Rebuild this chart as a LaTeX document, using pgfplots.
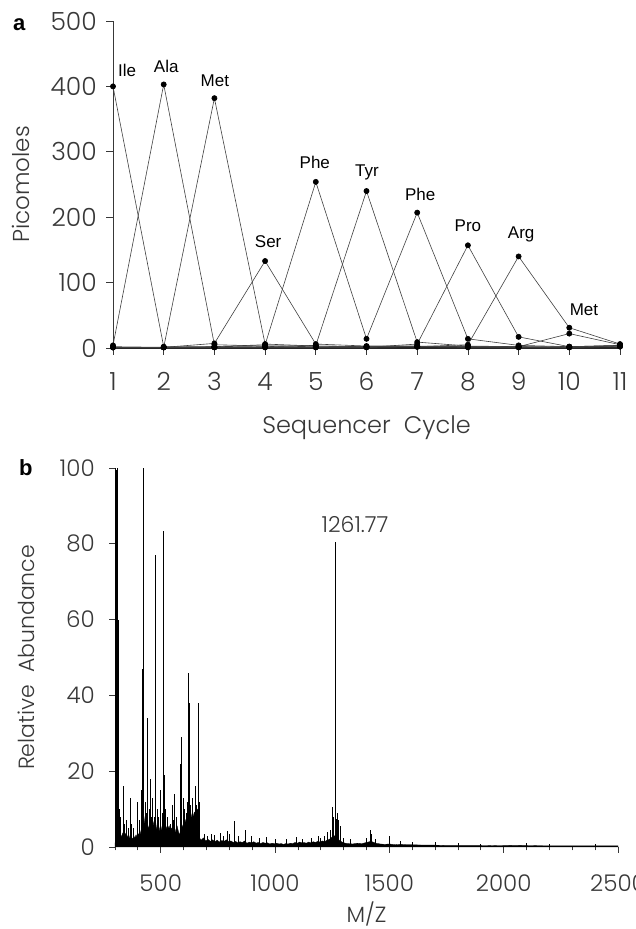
\documentclass[border=0pt]{standalone}
\usepackage{pgfplots}
\pgfplotsset{compat=1.18}
\usepackage{fontspec}
\IfFontExistsTF{Poppins Light}{\setmainfont{Poppins Light}}{\setmainfont{Poppins}}
\newfontfamily\arial{Liberation Sans}
\definecolor{ink}{gray}{0.22}
\definecolor{trace}{gray}{0.25}
\tikzset{lab/.style={font=\arial\fontsize{17}{19}\selectfont, text=black}}
\begin{document}
\begin{tikzpicture}[x=1pt,y=1pt]
\useasboundingbox (0,0) rectangle (635,929);
\pgfplotsset{
  common/.style={scale only axis, axis x line*=bottom, axis y line*=left,
    axis line style={-,ink,line width=1pt}, tick align=outside,
    major tick length=6pt, minor tick length=3.5pt, tick style={ink,line width=0.8pt},
    /pgf/number format/assume math mode=true, /pgf/number format/1000 sep={},
    tick label style={font=\fontsize{23}{25}\selectfont, text=ink},
    label style={font=\fontsize{22}{24}\selectfont, text=ink},
    clip=false},
  aa/.style={trace, line width=0.6pt, mark=*, mark size=2.6pt, mark options={fill=black,draw=black}},
}
% ---------------- panel a ----------------
\begin{axis}[common, at={(113pt,581pt)}, anchor=south west, width=507pt, height=327pt,
  xmin=1, xmax=11, ymin=0, ymax=500, xtick={1,...,11}, ytick={0,100,...,500},
  x axis line style={line width=1.8pt, black!85},
  major tick length=7pt,
  tick label style={font=\fontsize{25}{27}\selectfont},
  xlabel={Sequencer\ \ Cycle}, ylabel={Picomoles},
  xlabel style={at={(axis description cs:0.5,-0.245)}, anchor=center, font=\fontsize{24}{26}\selectfont},
  ylabel style={at={(axis description cs:-0.1815,0.5)}, anchor=center, rotate=0, font=\fontsize{23}{25}\selectfont},
  yticklabel style={anchor=east, inner sep=0pt, xshift=-9pt},
  xticklabel style={anchor=north, inner sep=0pt, yshift=-17pt}]
% Ile
\addplot[aa] coordinates {(1,400)(2,2)(3,2)(4,3)(5,2)(6,2)(7,2)(8,1)(9,1)(10,1)(11,2)};
% Ala
\addplot[aa] coordinates {(1,4)(2,403)(3,5)(4,3)(5,3)(6,2)(7,2)(8,2)(9,2)(10,2)(11,3)};
% Met
\addplot[aa] coordinates {(1,2)(2,1)(3,382)(4,6)(5,3)(6,2)(7,2)(8,2)(9,2)(10,22)(11,5)};
% Ser
\addplot[aa] coordinates {(1,1)(2,1)(3,7)(4,133)(5,6)(6,3)(7,3)(8,2)(9,1)(10,1)(11,3)};
% Phe
\addplot[aa] coordinates {(1,1)(2,1)(3,2)(4,5)(5,254)(6,14)(7,207)(8,14)(9,4)(10,2)(11,4)};
% Tyr
\addplot[aa] coordinates {(1,1)(2,1)(3,1)(4,2)(5,4)(6,240)(7,9)(8,3)(9,2)(10,1)(11,3)};
% Pro
\addplot[aa] coordinates {(1,1)(2,1)(3,1)(4,1)(5,1)(6,1)(7,6)(8,157)(9,17)(10,2)(11,4)};
% Arg
\addplot[aa] coordinates {(1,1)(2,1)(3,1)(4,1)(5,1)(6,1)(7,2)(8,5)(9,140)(10,31)(11,6)};
\node[lab] at (axis cs:1.28,425) {Ile};
\node[lab] at (axis cs:2.05,430) {Ala};
\node[lab] at (axis cs:3.01,408) {Met};
\node[lab] at (axis cs:4.06,162) {Ser};
\node[lab] at (axis cs:4.98,283) {Phe};
\node[lab] at (axis cs:6.01,268) {Tyr};
\node[lab] at (axis cs:7.06,235) {Phe};
\node[lab] at (axis cs:8.00,187) {Pro};
\node[lab] at (axis cs:9.05,173) {Arg};
\node[lab] at (axis cs:10.29,58) {Met};
\node[font=\arial\bfseries\fontsize{22}{24}\selectfont, anchor=center] at (axis description cs:-0.185,0.99) {a};
\end{axis}
% ---------------- panel b ----------------
\begin{axis}[common, at={(115pt,82pt)}, anchor=south west, width=503pt, height=379pt,
  xmin=300, xmax=2500, ymin=0, ymax=100, xtick={500,1000,...,2500}, ytick={0,20,...,100},
  minor xtick={300,400,...,2500},
  xlabel={M/Z}, ylabel={Relative\ \ Abundance},
  xlabel style={at={(axis description cs:0.5,-0.177)}, anchor=center, font=\fontsize{22}{24}\selectfont},
  ylabel style={at={(axis description cs:-0.177,0.5)}, anchor=center, rotate=0},
  yticklabel style={anchor=east, inner sep=0pt, xshift=-14pt},
  xticklabel style={anchor=north, inner sep=0pt, yshift=-22pt}]
% noise floor
\addplot[fill=black, draw=black, line width=0.3pt] coordinates {
(300,0)(302,3.5)(307,2.8)(312,4.2)(317,3.0)(322,3.8)(327,2.6)(332,3.4)(337,4.0)(342,2.9)
(347,3.6)(352,2.4)(357,3.1)(362,2.2)(367,3.3)(372,2.7)(377,2.0)(382,2.9)(387,2.4)(392,3.2)
(397,2.6)(402,3.5)(407,2.8)(412,3.9)(417,5.2)(422,7.5)(427,6.0)(432,8.2)(437,5.5)(442,6.4)
(447,4.8)(452,5.9)(457,4.2)(462,5.0)(467,6.6)(472,5.1)(477,7.0)(482,4.6)(487,5.5)(492,4.0)
(497,5.3)(502,4.4)(507,5.8)(512,4.9)(517,5.2)(522,4.6)(527,5.4)(532,4.9)(537,5.6)(542,4.3)
(547,5.0)(552,3.8)(557,4.6)(562,3.5)(567,4.8)(572,5.5)(577,4.2)(582,3.1)(587,4.5)(592,6.0)
(597,5.2)(602,6.5)(607,7.2)(612,6.0)(617,7.8)(622,7.0)(627,8.2)(632,7.5)(637,8.8)(642,8.0)
(647,9.2)(652,8.6)(657,9.5)(662,10.0)(665,9.0)(667,3.0)(672,2.2)
(677,1.8)(687,2.4)(697,1.6)(707,2.0)(717,1.5)(727,1.9)(737,1.4)(747,1.8)(757,1.3)(767,1.7)
(777,1.5)(787,1.9)(797,1.4)(807,1.6)(817,1.2)(827,1.5)(837,1.1)(847,1.4)(857,1.2)(867,1.6)
(877,1.0)(887,1.3)(897,1.1)(907,1.4)(917,1.0)(927,1.2)(937,0.9)(947,1.2)(957,1.0)(967,1.1)
(977,0.8)(987,1.0)(997,0.9)(1007,1.0)(1017,0.8)(1027,0.9)(1037,0.7)(1047,0.9)(1057,0.8)(1067,1.0)
(1077,0.9)(1087,1.2)(1097,1.0)(1107,1.3)(1117,1.1)(1127,1.2)(1137,1.0)(1147,1.3)(1157,1.1)(1167,1.4)
(1177,1.2)(1187,1.5)(1197,1.3)(1207,1.6)(1217,1.4)(1227,1.8)(1237,2.0)(1247,2.5)(1257,3.0)(1267,2.8)
(1277,2.0)(1287,1.5)(1297,1.2)(1307,1.0)(1320,0.9)(1340,0.8)(1360,1.0)(1380,0.9)(1400,1.2)(1420,1.5)
(1440,1.0)(1460,0.8)(1480,0.7)(1500,0.8)(1525,0.6)(1550,0.7)(1575,0.6)(1600,0.6)(1650,0.5)(1700,0.5)
(1750,0.4)(1800,0.4)(1850,0.4)(1900,0.4)(1950,0.35)(2000,0.4)(2050,0.45)(2100,0.4)(2150,0.35)(2200,0.3)
(2250,0.3)(2300,0.3)(2350,0.3)(2400,0.3)(2450,0.3)(2500,0.3)(2500,0)
} \closedcycle;
% peaks
\addplot[ycomb, black, line width=0.7pt, mark=none] coordinates {
(303,100)(306,99.5)(310,100)(313,60)(318,10)(322,8)(336,16)(342,6)(350,7)(357,5)
(366,13)(372,6)(380,5)(396,12)(405,7)(415,15)(421,47)(423,30)(426,100)(431,12)
(436,9)(443,34)(449,10)(454,18)(459,8)(465,13)(472,8)(476,77)(478,61)(484,10)
(490,8)(500,15)(505,9)(511,83.5)(514,19)(520,10)(530,8)(540,6)(551,11)(556,7)
(561,14)(570,8)(585,22)(588,12)(592,29)(598,13)(605,10)(612,9)(617,12)(621,46)
(624,38)(630,11)(640,13)(650,16)(656,11)(664,38)(668,12)(690,3.5)(705,3)(720,3.4)
(735,3.2)(760,3.8)(775,3)(790,4.2)(800,3.5)(822,6.8)(840,3.0)(868,4.5)(895,2.8)(930,2.5)
(960,2.6)(1000,2.2)(1050,2.0)(1095,2.6)(1120,2.2)(1160,2.4)(1190,3.0)(1200,2.5)(1215,3.0)(1230,4.0)
(1240,4.5)(1250,10.6)(1255,8)(1261.77,80.5)(1264,60)(1268,7.5)(1272,9)(1278,7)(1285,5.5)(1300,2.5)
(1330,2.0)(1400,2.5)(1418,4.6)(1423,3.5)(1440,2)(1500,3)(1550,1.5)(1600,1.3)(1700,1.2)(1800,1.0)
(1900,0.9)(2100,1.0)(2200,0.8)(2400,0.7)
};
\node[font=\fontsize{22}{24}\selectfont, text=ink] at (axis cs:1350,85) {1261.77};
\node[font=\arial\bfseries\fontsize{22}{24}\selectfont, anchor=center] at (axis description cs:-0.177,1.0) {b};
\end{axis}
\end{tikzpicture}
\end{document}
